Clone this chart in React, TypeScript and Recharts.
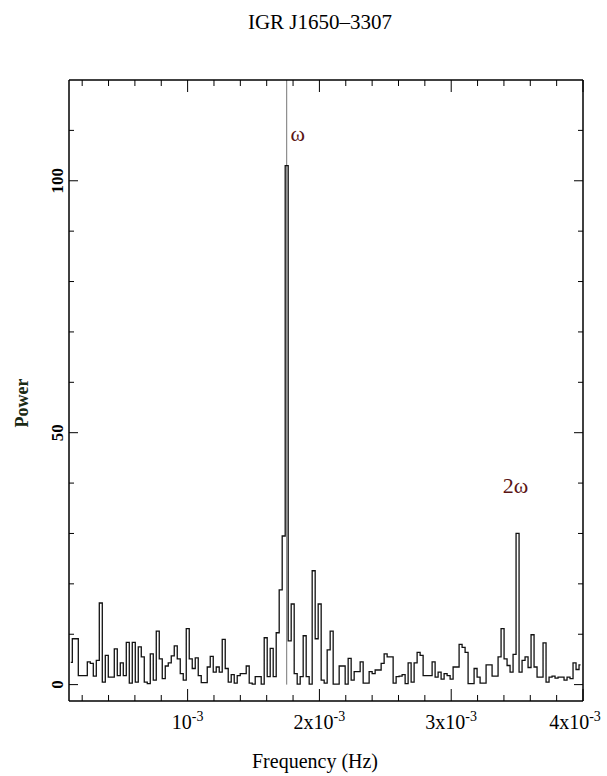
import { LineChart, Line, XAxis, YAxis, ReferenceLine, ReferenceDot } from "recharts"

// periodogram bins: f = k * BIN_WIDTH, k starting at FIRST_BIN
const BIN_WIDTH = 2.275e-5
const FIRST_BIN = 5

const POWER = [
  4.4, 9.1, 9.1, 1.8, 1.8, 1.8, 4.5, 4.2, 1.7, 4.8,
  16.2, 0.5, 5.8, 1.5, 1.5, 7.1, 1.8, 4.3, 1.8, 8.4,
  0.3, 8.4, 0.5, 7.5, 5.5, 0.5, 0.2, 6.1, 0.9, 10.6,
  5.1, 1.2, 3.7, 4.3, 5.7, 7.7, 5.1, 2.2, 0.9, 11.1,
  5.1, 3.2, 5.3, 1.8, 0.4, 0.4, 3.5, 5.6, 2.5, 3.5,
  2.5, 9.0, 3.2, 0.5, 2.0, 0.3, 1.8, 2.2, 2.2, 3.7,
  0.3, 0.1, 1.6, 1.6, 0.1, 9.3, 1.6, 7.2, 1.6, 10.3,
  18.8, 29.5, 103, 8.7, 16.0, 2.2, 0.1, 1.6, 9.7, 1.6,
  0.1, 22.6, 9.1, 16.0, 0.9, 0.3, 6.9, 10.6, 0.1, 0.1,
  3.7, 3.7, 0.1, 5.2, 0.9, 2.6, 2.6, 4.5, 0.3, 0.3,
  2.6, 2.2, 2.9, 2.9, 4.2, 6.1, 5.5, 5.5, 0.3, 1.6,
  1.7, 2.0, 0.2, 4.3, 0.5, 4.3, 6.4, 5.8, 1.8, 1.8,
  1.8, 4.5, 1.5, 2.5, 1.1, 2.2, 1.8, 1.1, 3.5, 3.5,
  8.0, 7.4, 6.4, 0.2, 0.2, 3.2, 1.5, 0.3, 0.3, 3.9,
  3.9, 1.7, 1.7, 5.5, 11.1, 5.1, 3.8, 2.5, 6.0, 30.0,
  2.5, 4.8, 5.5, 3.4, 9.9, 3.5, 1.5, 1.5, 8.3, 0.5,
  1.5, 1.7, 1.3, 1.5, 1.5, 0.9, 1.5, 1.2, 4.3, 3.0,
  3.9,
]

const OMEGA_BIN = 77
const HARMONIC_BIN = 154

const X_TICKS = [
  0.0002, 0.0004, 0.0006, 0.0008, 0.001, 0.0012, 0.0014, 0.0016, 0.0018, 0.002,
  0.0022, 0.0024, 0.0026, 0.0028, 0.003, 0.0032, 0.0034, 0.0036, 0.0038, 0.004,
]
const X_MAJOR = [0.001, 0.002, 0.003, 0.004]
const X_MAJOR_LABELS = ["10", "2x10", "3x10", "4x10"]
const Y_TICKS = [0, 10, 20, 30, 40, 50, 60, 70, 80, 90, 100, 110]
const Y_MAJOR = [0, 50, 100]

const SERIF = "'Liberation Serif', 'DejaVu Serif', serif"
const MARK_COLOR = "#5a1414"

const data = POWER.map((p, i) => ({ freq: (FIRST_BIN + i) * BIN_WIDTH, power: p }))

const majorIndex = (v: number) => X_MAJOR.findIndex((m) => Math.abs(m - v) < 1e-9)

function BottomTick({ x, y, payload }: any) {
  const idx = majorIndex(payload.value)
  const len = idx >= 0 ? 12 : 6
  // last label sits on the frame corner, nudge it in so it stays on the page
  const dx = idx === X_MAJOR.length - 1 ? -8 : 0
  return (
    <g>
      <line x1={x} y1={y} x2={x} y2={y - len} stroke="#000" strokeWidth={1} />
      {idx >= 0 && (
        <text x={x + dx} y={y + 28} textAnchor="middle" fontFamily={SERIF} fontSize={20} fill="#000">
          {X_MAJOR_LABELS[idx]}
          <tspan dy={-8} fontSize={14}>-3</tspan>
        </text>
      )}
    </g>
  )
}

function TopTick({ x, y, payload }: any) {
  const len = majorIndex(payload.value) >= 0 ? 12 : 6
  return <line x1={x} y1={y} x2={x} y2={y + len} stroke="#000" strokeWidth={1} />
}

function LeftTick({ x, y, payload }: any) {
  const major = Y_MAJOR.includes(payload.value)
  const len = major ? 9 : 5
  const lx = x - 11
  return (
    <g>
      <line x1={x} y1={y} x2={x + len} y2={y} stroke="#000" strokeWidth={1} />
      {major && (
        <text
          x={lx}
          y={y}
          transform={`rotate(-90 ${lx} ${y})`}
          textAnchor="middle"
          dominantBaseline="central"
          fontFamily={SERIF}
          fontSize={17}
          fontWeight="bold"
          fill="#000"
        >
          {payload.value}
        </text>
      )}
    </g>
  )
}

function RightTick({ x, y, payload }: any) {
  const len = Y_MAJOR.includes(payload.value) ? 9 : 5
  return <line x1={x} y1={y} x2={x - len} y2={y} stroke="#000" strokeWidth={1} />
}

export default function App() {
  const omega = OMEGA_BIN * BIN_WIDTH
  const harmonic = HARMONIC_BIN * BIN_WIDTH

  return (
    <div style={{ position: "absolute", left: 0, top: 0, width: 607, height: 776, background: "#fff" }}>
      <div
        style={{
          position: "absolute",
          left: 0,
          width: 640,
          top: 10,
          textAlign: "center",
          fontFamily: SERIF,
          fontSize: 21,
          color: "#000",
        }}
      >
        IGR J1650–3307
      </div>
      <LineChart width={607} height={776} data={data} margin={{ top: 70, right: 14, bottom: 0, left: 9 }}>
        <XAxis
          xAxisId="bottom"
          dataKey="freq"
          type="number"
          domain={[0.0001, 0.004]}
          allowDataOverflow
          ticks={X_TICKS}
          interval={0}
          tick={<BottomTick />}
          tickLine={false}
          tickSize={0}
          tickMargin={0}
          height={75}
          axisLine={{ stroke: "#000", strokeWidth: 1.5 }}
          label={{
            content: () => (
              <text x={315} y={768} textAnchor="middle" fontFamily={SERIF} fontSize={20} fill="#000">
                Frequency (Hz)
              </text>
            ),
          }}
        />
        <XAxis
          xAxisId="top"
          orientation="top"
          dataKey="freq"
          type="number"
          domain={[0.0001, 0.004]}
          allowDataOverflow
          ticks={X_TICKS}
          interval={0}
          tick={<TopTick />}
          tickLine={false}
          tickSize={0}
          tickMargin={0}
          height={10}
          axisLine={{ stroke: "#000", strokeWidth: 1.5 }}
        />
        <YAxis
          yAxisId="left"
          type="number"
          domain={[-3.25, 120]}
          allowDataOverflow
          ticks={Y_TICKS}
          interval={0}
          tick={<LeftTick />}
          tickLine={false}
          tickSize={0}
          tickMargin={0}
          width={60}
          axisLine={{ stroke: "#000", strokeWidth: 1.5 }}
          label={{
            content: () => (
              <text
                x={22}
                y={403}
                transform="rotate(-90 22 403)"
                textAnchor="middle"
                dominantBaseline="central"
                fontFamily={SERIF}
                fontSize={18}
                fontWeight="bold"
                fill="#1a2a14"
              >
                Power
              </text>
            ),
          }}
        />
        <YAxis
          yAxisId="right"
          orientation="right"
          type="number"
          domain={[-3.25, 120]}
          allowDataOverflow
          ticks={Y_TICKS}
          interval={0}
          tick={<RightTick />}
          tickLine={false}
          tickSize={0}
          tickMargin={0}
          width={10}
          axisLine={{ stroke: "#000", strokeWidth: 1.5 }}
        />
        {/* marker for the spin frequency, from zero power up to the frame */}
        <ReferenceLine
          xAxisId="bottom"
          yAxisId="left"
          segment={[
            { x: omega, y: 0 },
            { x: omega, y: 120 },
          ]}
          stroke="#777"
          strokeWidth={1}
        />
        <Line
          xAxisId="bottom"
          yAxisId="left"
          type="step"
          dataKey="power"
          stroke="#111"
          strokeWidth={1.3}
          dot={false}
          isAnimationActive={false}
        />
        <ReferenceDot
          xAxisId="bottom"
          yAxisId="left"
          x={omega}
          y={109.5}
          r={0}
          label={{ value: "ω", position: "center", dx: 11, fontFamily: SERIF, fontSize: 22, fill: MARK_COLOR }}
        />
        <ReferenceDot
          xAxisId="bottom"
          yAxisId="left"
          x={harmonic}
          y={39.5}
          r={0}
          label={{ value: "2ω", position: "center", dx: -2, fontFamily: SERIF, fontSize: 22, fill: MARK_COLOR }}
        />
      </LineChart>
    </div>
  )
}
